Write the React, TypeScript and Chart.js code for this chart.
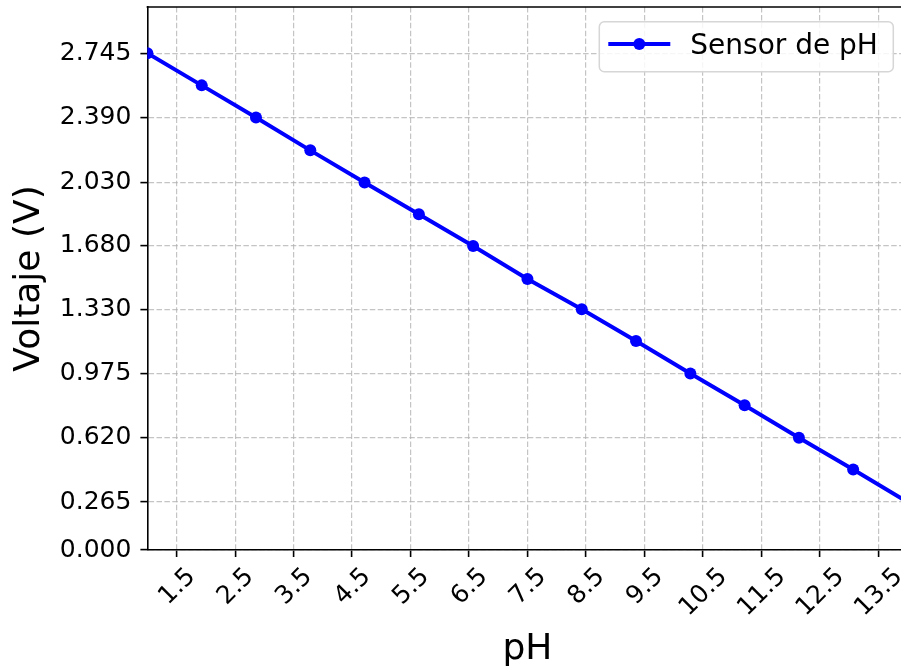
import React, { useEffect, useRef } from 'react';
import { Chart, registerables } from 'chart.js';

Chart.register(...registerables);

// ---- Data ----
const phValues = [1.0, 1.929, 2.857, 3.786, 4.714, 5.643, 6.571, 7.5, 8.429, 9.357, 10.286, 11.214, 12.143, 13.071, 14.0];
const voltageValues = [2.745, 2.567, 2.39, 2.208, 2.03, 1.855, 1.68, 1.497, 1.33, 1.155, 0.975, 0.8, 0.62, 0.445, 0.265];
const yTickValues = [0, 0.265, 0.62, 0.975, 1.33, 1.68, 2.03, 2.39, 2.745];
const yTickLabels = ['0.000', '0.265', '0.620', '0.975', '1.330', '1.680', '2.030', '2.390', '2.745'];
const xTickValues = [1.5, 2.5, 3.5, 4.5, 5.5, 6.5, 7.5, 8.5, 9.5, 10.5, 11.5, 12.5, 13.5];
const xTickLabels = ['1.5', '2.5', '3.5', '4.5', '5.5', '6.5', '7.5', '8.5', '9.5', '10.5', '11.5', '12.5', '13.5'];
const seriesLabel = 'Sensor de pH';
const xTitle = 'pH';
const yTitle = 'Voltaje (V)';

const FONT = "'DejaVu Sans', 'Liberation Sans', sans-serif";
const BLUE = '#0000ff';
const GRID = 'rgba(176,176,176,0.75)';

const frameAndLabels = {
  id: 'frameAndLabels',
  afterDraw(chart: any) {
    const { ctx, chartArea } = chart;
    const xs = chart.scales.x;
    ctx.save();
    // top and right spines
    ctx.strokeStyle = '#000';
    ctx.lineWidth = 1.6;
    ctx.beginPath();
    ctx.moveTo(chartArea.left - 0.8, chartArea.top);
    ctx.lineTo(chartArea.right + 0.8, chartArea.top);
    ctx.stroke();
    ctx.beginPath();
    ctx.moveTo(chartArea.right, chartArea.top);
    ctx.lineTo(chartArea.right, chartArea.bottom);
    ctx.stroke();

    // rotated x tick labels (centered like matplotlib)
    const fs = 25;
    ctx.font = `${fs}px ${FONT}`;
    ctx.fillStyle = '#000';
    ctx.textAlign = 'center';
    ctx.textBaseline = 'alphabetic';
    xTickValues.forEach((v, i) => {
      const label = xTickLabels[i];
      const px = xs.getPixelForValue(v);
      const w = ctx.measureText(label).width;
      const ext = (w + 0.729 * fs) * Math.SQRT1_2;
      const cy = chartArea.bottom + 14.5 + ext / 2;
      ctx.save();
      ctx.translate(px - 1, cy);
      ctx.rotate(-Math.PI / 4);
      ctx.fillText(label, 0, 0.3645 * fs);
      ctx.restore();
    });

    // legend
    const bw = 294;
    const bh = 50;
    const bx = chartArea.right - 14.2 - bw;
    const by = chartArea.top + 14.7;
    const r = 5;
    ctx.beginPath();
    ctx.moveTo(bx + r, by);
    ctx.lineTo(bx + bw - r, by);
    ctx.arcTo(bx + bw, by, bx + bw, by + r, r);
    ctx.lineTo(bx + bw, by + bh - r);
    ctx.arcTo(bx + bw, by + bh, bx + bw - r, by + bh, r);
    ctx.lineTo(bx + r, by + bh);
    ctx.arcTo(bx, by + bh, bx, by + bh - r, r);
    ctx.lineTo(bx, by + r);
    ctx.arcTo(bx, by, bx + r, by, r);
    ctx.closePath();
    ctx.fillStyle = 'rgba(255,255,255,0.85)';
    ctx.fill();
    ctx.strokeStyle = '#d6d6d6';
    ctx.lineWidth = 1.5;
    ctx.stroke();

    const ly = by + 22.3;
    ctx.strokeStyle = BLUE;
    ctx.lineWidth = 4;
    ctx.beginPath();
    ctx.moveTo(bx + 9, ly);
    ctx.lineTo(bx + 71, ly);
    ctx.stroke();
    ctx.fillStyle = BLUE;
    ctx.beginPath();
    ctx.arc(bx + 40, ly, 6, 0, Math.PI * 2);
    ctx.fill();

    ctx.fillStyle = '#000';
    ctx.font = `28px ${FONT}`;
    ctx.textAlign = 'left';
    ctx.textBaseline = 'alphabetic';
    ctx.fillText(seriesLabel, bx + 91, by + 32.6);
    ctx.restore();
  },
};

export default function App() {
  const canvasRef = useRef<HTMLCanvasElement | null>(null);

  useEffect(() => {
    const canvas = canvasRef.current;
    if (!canvas) return;
    const chart = new Chart(canvas, {
      type: 'line',
      data: {
        datasets: [
          {
            label: seriesLabel,
            data: phValues.map((x, i) => ({ x, y: voltageValues[i] })),
            borderColor: BLUE,
            backgroundColor: BLUE,
            borderWidth: 4,
            pointRadius: 6,
            pointHoverRadius: 6,
            pointBorderWidth: 0,
            pointBackgroundColor: BLUE,
            tension: 0,
            clip: 0,
          } as any,
        ],
      },
      options: {
        responsive: false,
        animation: false,
        devicePixelRatio: 1,
        layout: { autoPadding: false, padding: { top: 7, right: 2.5, left: 0, bottom: 0 } },
        plugins: { legend: { display: false }, tooltip: { enabled: false } },
        scales: {
          x: {
            type: 'linear',
            position: 'bottom',
            min: 1,
            max: 14,
            afterBuildTicks: (s: any) => {
              s.ticks = xTickValues.map((v) => ({ value: v }));
            },
            ticks: { display: false },
            grid: {
              color: GRID,
              lineWidth: 1.2,
              tickLength: 7,
              tickColor: '#000',
              tickWidth: 1.6,
              tickBorderDash: [],
            },
            border: { display: true, color: '#000', width: 1.6, dash: [5.5, 2.4] },
            title: {
              display: true,
              text: xTitle,
              color: '#000',
              font: { family: FONT, size: 36, lineHeight: 0.9 },
              padding: { top: 0, bottom: 1 },
            },
            afterFit: (s: any) => {
              s.height = 117;
              s.paddingLeft = 0;
              s.paddingRight = 0;
            },
          },
          y: {
            type: 'linear',
            min: 0,
            max: 3.0,
            afterBuildTicks: (s: any) => {
              s.ticks = yTickValues.map((v) => ({ value: v }));
            },
            ticks: {
              color: '#000',
              padding: 9,
              font: { family: FONT, size: 25 },
              callback: (_v: any, i: number) => yTickLabels[i],
            },
            grid: {
              color: GRID,
              lineWidth: 1.2,
              tickLength: 7,
              tickColor: '#000',
              tickWidth: 1.6,
              tickBorderDash: [],
            },
            border: { display: true, color: '#000', width: 1.6, dash: [5.5, 2.4] },
            title: {
              display: true,
              text: yTitle,
              color: '#000',
              font: { family: FONT, size: 36, lineHeight: 1.2 },
              padding: { top: 8, bottom: 0 },
            },
            afterFit: (s: any) => {
              s.width = 147.4;
              s.paddingTop = 0;
              s.paddingBottom = 0;
            },
          },
        },
      } as any,
      plugins: [frameAndLabels],
    });
    return () => chart.destroy();
  }, []);

  return (
    <div
      style={{
        position: 'fixed',
        left: 0,
        top: 0,
        width: 901,
        height: 667,
        overflow: 'hidden',
        background: '#fff',
      }}
    >
      <canvas ref={canvasRef} width={910} height={667} style={{ width: 910, height: 667, display: 'block' }} />
    </div>
  );
}
